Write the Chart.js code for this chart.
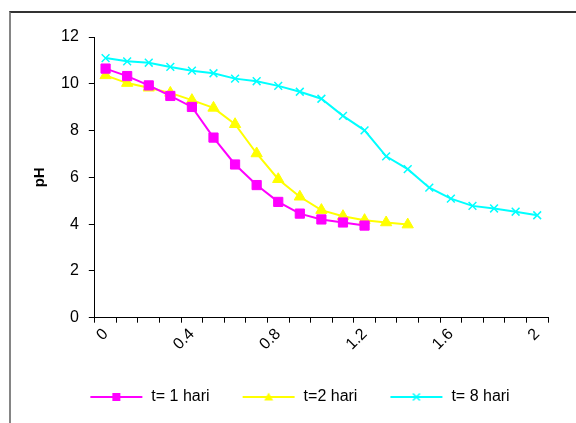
<!DOCTYPE html>
<html>
<head>
<meta charset="utf-8">
<script src="https://cdn.jsdelivr.net/npm/chart.js@4.4.1/dist/chart.umd.min.js"></script>
<style>
    html, body { margin: 0; padding: 0; background: #fff; }
    #wrap { position: relative; width: 576px; height: 423px; overflow: hidden; }
    #frame { position: absolute; left: 9px; top: 11px; right: -5px; bottom: -5px;
             border-top: 2px solid #333; border-left: 2px solid #858585; }
    #chartPH { position: absolute; left: 0; top: 0; }
</style>
</head>
<body>
<div id="wrap">
    <div id="frame"></div>
    <canvas id="chartPH" width="576" height="423"></canvas>
</div>
<script>
// waktu (kategori sumbu x)
const waktu = ['0', '0.1', '0.2', '0.3', '0.4', '0.5', '0.6', '0.7', '0.8', '0.9', '1',
               '1.1', '1.2', '1.3', '1.4', '1.5', '1.6', '1.7', '1.8', '1.9', '2'];
const labelSumbuX = ['0', '0.4', '0.8', '1.2', '1.6', '2'];
const ticksY = [0, 2, 4, 6, 8, 10, 12];

// nilai pH tiap seri
const ph1Hari = [10.65, 10.33, 9.93, 9.48, 9.01, 7.70, 6.55, 5.67, 4.95, 4.45, 4.20, 4.07, 3.94];
const ph2Hari = [10.36, 10.03, 9.83, 9.61, 9.30, 8.97, 8.27, 7.02, 5.92, 5.17, 4.60, 4.34, 4.17, 4.07, 3.98];
const ph8Hari = [11.10, 10.96, 10.90, 10.72, 10.56, 10.45, 10.22, 10.11, 9.91, 9.66, 9.36,
                 8.63, 8.01, 6.90, 6.35, 5.56, 5.09, 4.78, 4.67, 4.53, 4.38];
const namaSeri = ['t= 1 hari', 't=2 hari', 't= 8 hari'];

const FONT = 'Arial, "Liberation Sans", sans-serif';
const LEBAR_IKON = 76;

// ikon legenda: garis + penanda (gaya Excel)
function buatIkon(warna, bentuk) {
    const c = document.createElement('canvas');
    c.width = LEBAR_IKON;
    c.height = 12;
    const g = c.getContext('2d');
    const x0 = LEBAR_IKON - 53, x1 = LEBAR_IKON - 1, cx = (x0 + x1) / 2, cy = 6;
    g.strokeStyle = warna;
    g.fillStyle = warna;
    g.lineWidth = 2;
    g.beginPath(); g.moveTo(x0, cy); g.lineTo(x1, cy); g.stroke();
    if (bentuk === 'kotak') {
        g.fillRect(cx - 4, cy - 4, 8, 8);
    } else if (bentuk === 'segitiga') {
        g.beginPath(); g.moveTo(cx, cy - 4.5); g.lineTo(cx + 4.5, cy + 3.5); g.lineTo(cx - 4.5, cy + 3.5);
        g.closePath(); g.fill();
    } else {
        g.lineWidth = 1.5;
        g.beginPath();
        g.moveTo(cx - 3.5, cy - 3.5); g.lineTo(cx + 3.5, cy + 3.5);
        g.moveTo(cx + 3.5, cy - 3.5); g.lineTo(cx - 3.5, cy + 3.5);
        g.stroke();
    }
    return c;
}
const ikon = [buatIkon('#ff00ff', 'kotak'), buatIkon('#ffff00', 'segitiga'), buatIkon('#00ffff', 'silang')];

const ctx = document.getElementById('chartPH').getContext('2d');
new Chart(ctx, {
    type: 'line',
    data: {
        labels: waktu,
        datasets: [
            {
                label: namaSeri[0],
                data: ph1Hari,
                borderColor: '#ff00ff',
                backgroundColor: '#ff00ff',
                borderWidth: 2,
                pointStyle: 'rect',
                pointRadius: 6.5,
                pointBorderWidth: 1
            },
            {
                label: namaSeri[1],
                data: ph2Hari,
                borderColor: '#ffff00',
                backgroundColor: '#ffff00',
                borderWidth: 2,
                pointStyle: 'triangle',
                pointRadius: 6.5,
                pointBorderWidth: 1
            },
            {
                label: namaSeri[2],
                data: ph8Hari,
                borderColor: '#00ffff',
                backgroundColor: '#00ffff',
                borderWidth: 2,
                pointStyle: 'crossRot',
                pointRadius: 5.5,
                pointBorderWidth: 1.5
            }
        ]
    },
    options: {
        responsive: false,
        animation: false,
        devicePixelRatio: 1,
        layout: { padding: { left: 29, top: 37, right: 28, bottom: 8 } },
        scales: {
            x: {
                type: 'category',
                offset: true,
                grid: { offset: true, drawOnChartArea: false, tickLength: 5, color: '#000' },
                border: { color: '#000', width: 1 },
                ticks: {
                    autoSkip: false,
                    maxRotation: 45,
                    minRotation: 45,
                    padding: 2,
                    color: '#000',
                    font: { family: FONT, size: 16 },
                    callback: function(val) {
                        const lbl = this.getLabelForValue(val);
                        return labelSumbuX.includes(lbl) ? lbl : '';
                    }
                },
                afterFit: function(scale) { scale.height += 23; }
            },
            y: {
                min: 0,
                max: 12,
                grid: { drawOnChartArea: false, tickLength: 6, color: '#000' },
                border: { color: '#000', width: 1 },
                afterBuildTicks: function(scale) {
                    scale.ticks = ticksY.map(v => ({ value: v }));
                },
                ticks: {
                    padding: 10,
                    color: '#000',
                    font: { family: FONT, size: 16 }
                },
                title: {
                    display: true,
                    text: 'pH',
                    color: '#000',
                    padding: { top: 2, bottom: 2 },
                    font: { family: FONT, size: 15, weight: 'bold' }
                }
            }
        },
        plugins: {
            legend: {
                position: 'bottom',
                labels: {
                    usePointStyle: true,
                    pointStyleWidth: LEBAR_IKON,
                    padding: 10,
                    color: '#000',
                    font: { family: FONT, size: 16 },
                    generateLabels: function(chart) {
                        const items = Chart.defaults.plugins.legend.labels.generateLabels(chart);
                        items.forEach((it, i) => { it.pointStyle = ikon[i]; });
                        return items;
                    }
                }
            },
            tooltip: { enabled: false }
        }
    }
});
</script>
</body>
</html>
